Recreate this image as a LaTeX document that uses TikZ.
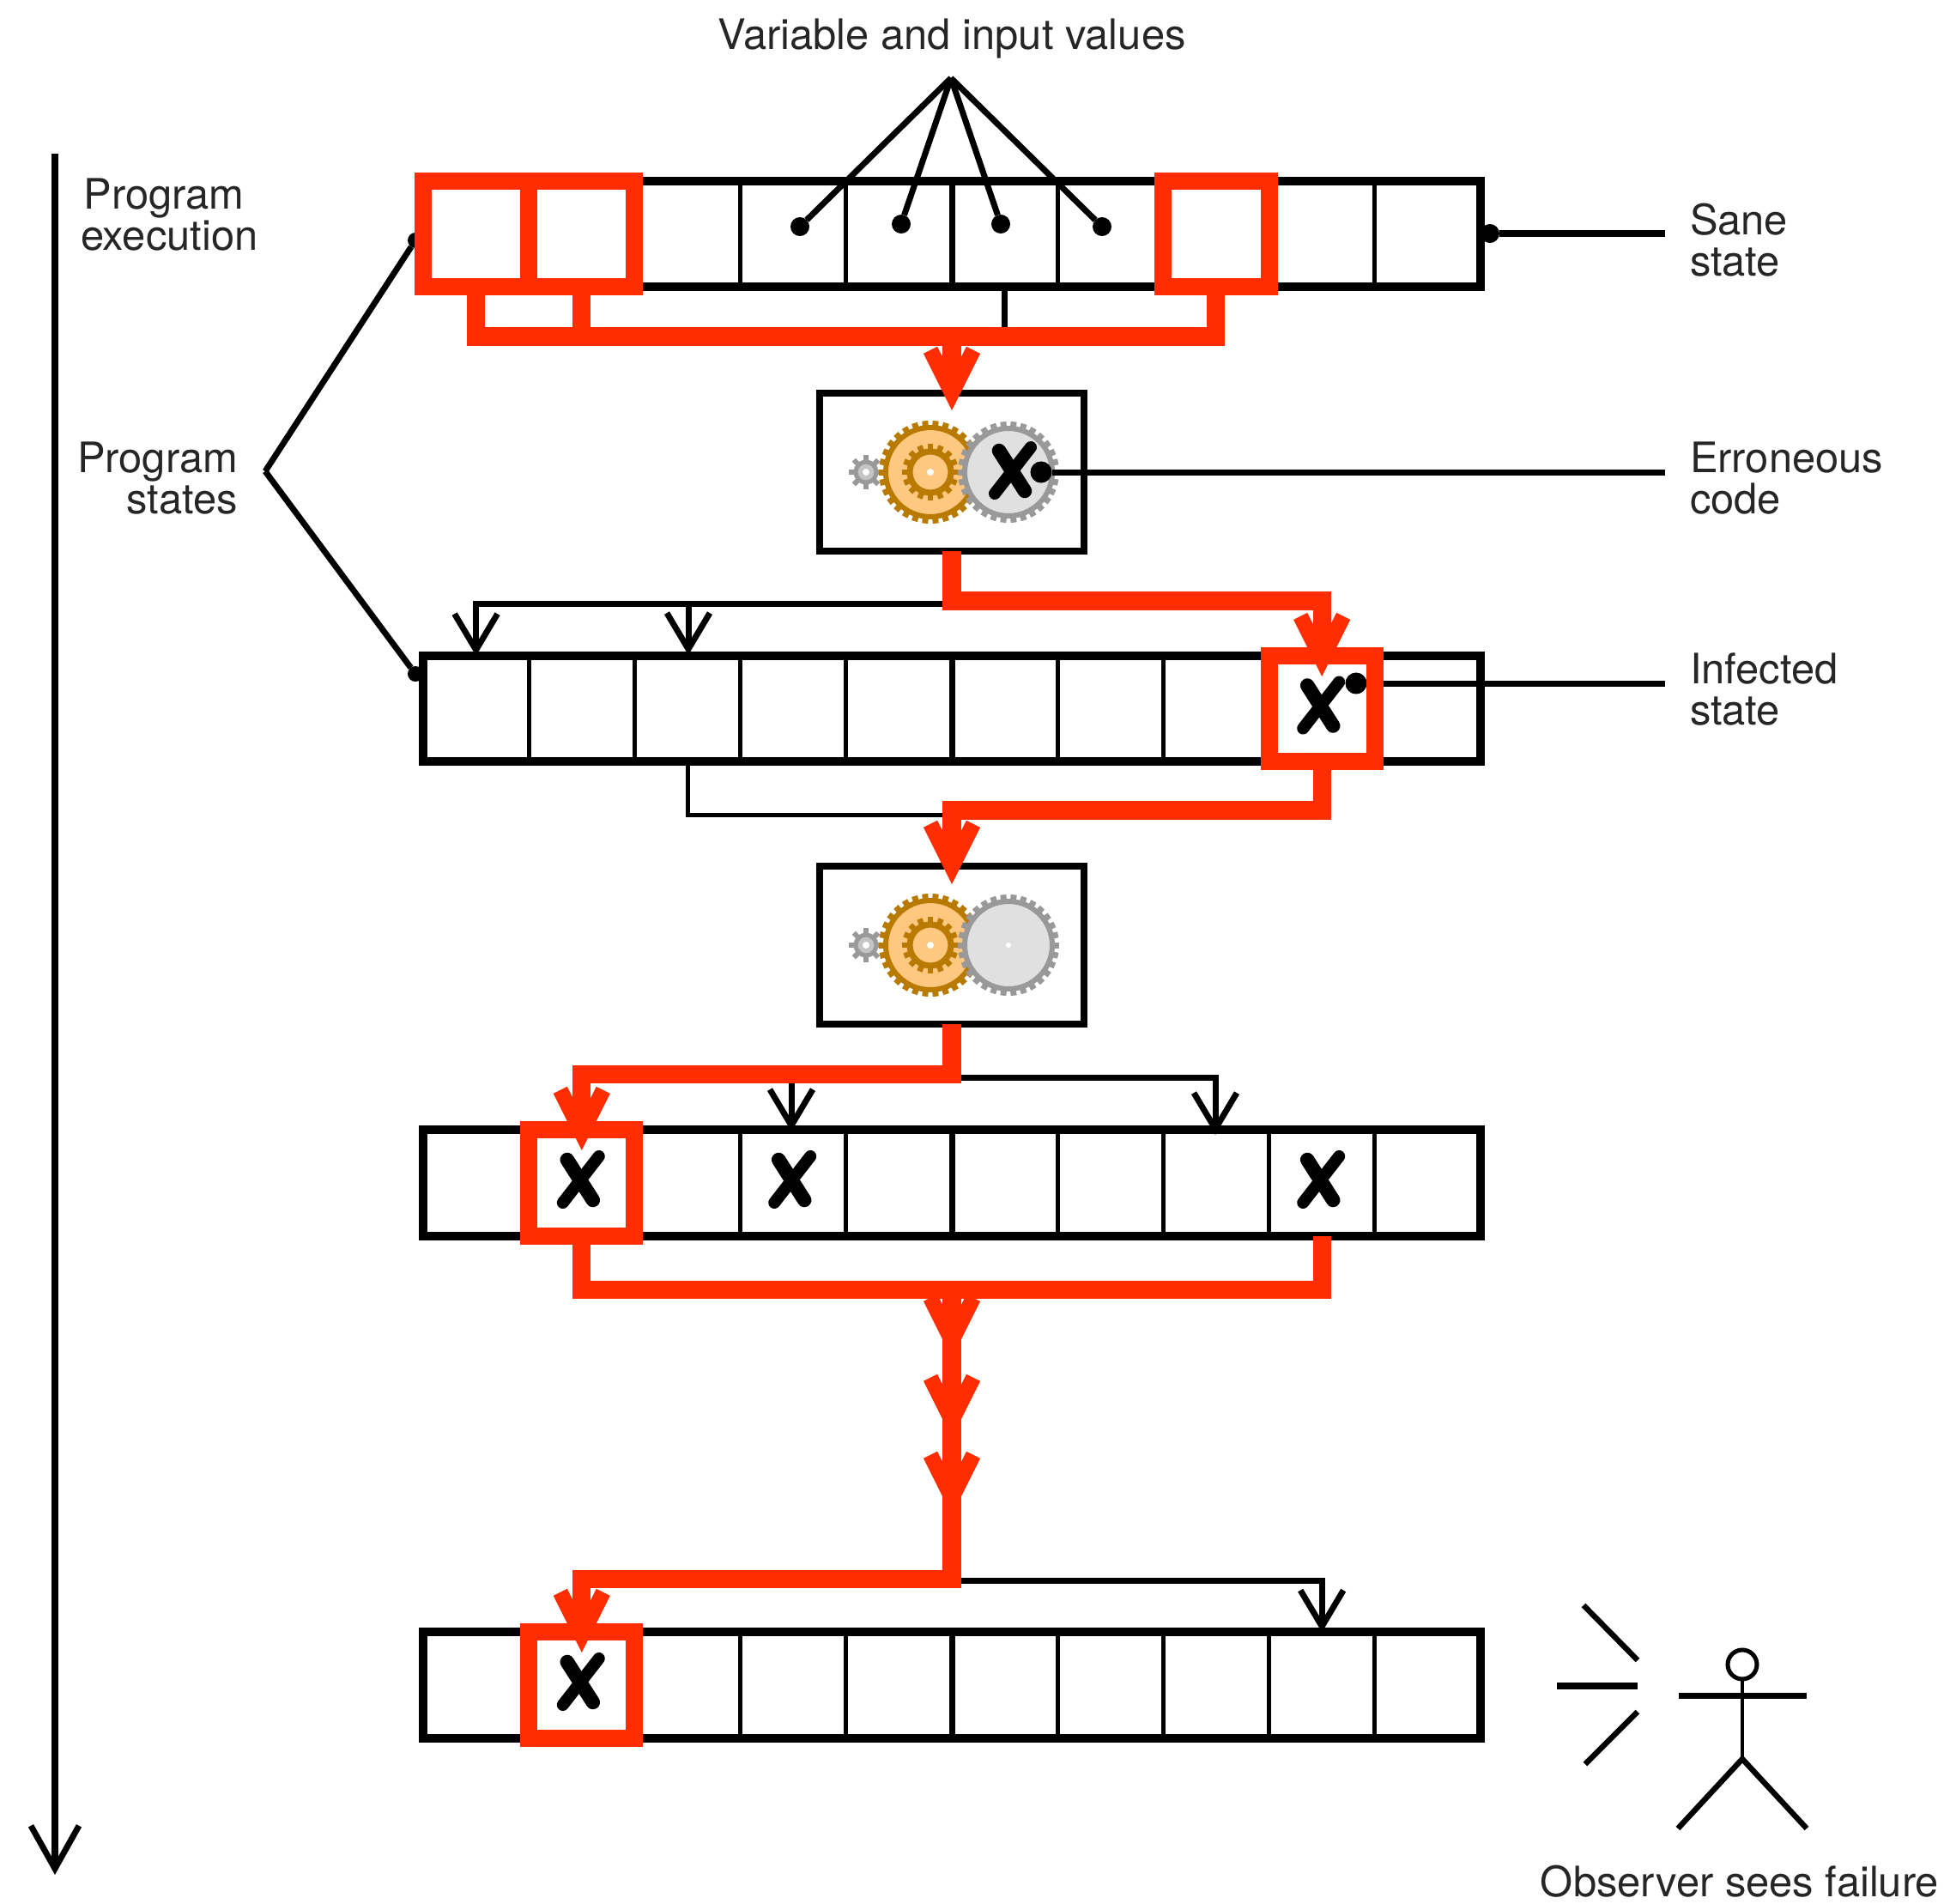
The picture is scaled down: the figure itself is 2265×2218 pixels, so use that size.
\documentclass[tikz,border=0pt]{standalone}
\usepackage{fontspec}
\setmainfont{TeX Gyre Heros}
\usetikzlibrary{arrows.meta}
\definecolor{rd}{HTML}{FF2D00}
\definecolor{org}{HTML}{FFC880}
\definecolor{brn}{HTML}{B87A00}
\definecolor{gr}{HTML}{999999}
\definecolor{lg}{HTML}{E0E0E0}
\newcommand{\teeth}[4]{% inner r, outer r, count step, width
  \foreach \a in {0,#3,...,359} \draw[line width=#4] (\a:#1) -- (\a:#2);}
\tikzset{
  cellbox/.style={draw=black,line width=0.05cm,minimum width=1.232cm,minimum height=1.23cm,inner sep=0pt,outer sep=0pt},
  frame/.style={draw=black,line width=0.1cm,line join=miter},
  mid/.style={draw=black,line width=0.07cm},
  gearbox/.style={draw=black,line width=0.08cm,fill=white,minimum width=3.07cm,minimum height=1.84cm,inner sep=0pt,outer sep=0pt},
  redbox/.style={draw=rd,line width=0.2cm,line join=miter},
  redline/.style={draw=rd,line width=0.21cm,line join=miter},
  redarrow/.style={draw=rd,line width=0.21cm,-{Straight Barb[length=0.5cm,width=0.5cm,line width=0.18cm,color=rd]}},
  blackline/.style={draw=black,line width=0.07cm,line join=miter},
  thinline/.style={draw=black,line width=0.05cm,line join=miter},
  blackarrow/.style={blackline,-{Straight Barb[length=0.42cm,width=0.5cm,line width=0.07cm]}},
  lead/.style={draw=black,line width=0.07cm},
  dotnode/.style={circle,fill=black,inner sep=0pt,outer sep=0pt,minimum size=0.22cm},
  lbl/.style={font=\fontsize{13.9}{13.66}\selectfont,inner sep=0pt,outer sep=0pt,text=black!85},
  stick/.style={draw=black,line width=0.065cm},
  xmark/.pic={
    \draw[line width=0.165cm,line cap=round] (-17,-27) -- (13,20);
    \draw[line width=0.14cm,line cap=round] (20,-31) -- (-22,23);
  },
  gearset/.pic={
    % small gear
    \begin{scope}[shift={(-100,0)},draw=gr]
      \teeth{10}{20}{45}{0.06cm}
      \draw[gr,line width=0.05cm,fill=lg!60!gr] (0,0) circle (12);
      \fill[white] (0,0) circle (4);
    \end{scope}
    % orange gear
    \begin{scope}[shift={(-25,0)},draw=brn]
      \teeth{50}{60}{12}{0.07cm}
      \draw[brn,line width=0.06cm,fill=org] (0,0) circle (52);
      \teeth{24}{33}{22.5}{0.065cm}
      \draw[brn,line width=0.07cm,fill=org] (0,0) circle (24);
      \fill[white] (0,0) circle (4);
    \end{scope}
    % grey gear
    \begin{scope}[shift={(66,0)},draw=gr]
      \teeth{48}{59}{12}{0.07cm}
      \draw[gr,line width=0.06cm,fill=lg] (0,0) circle (51);
      \fill[white] (0,0) circle (3);
    \end{scope}
  }
}
\begin{document}
\begin{tikzpicture}[x=0.01cm,y=-0.01cm]
\useasboundingbox (0,0) rectangle (2265,2218);
% cells of the four rows
\foreach \r/\yy in {a/272.5,b/825.5,c/1378,d/1963}{
  \foreach \i in {0,...,9}{
    \pgfmathsetmacro{\xx}{493+123.2*(\i+0.5)}
    \node[cellbox] (\r\i) at (\xx,\yy) {};
  }
  \draw[frame] (\r0.north west) rectangle (\r9.south east);
  \draw[mid] (\r4.north east) -- (\r4.south east);
}
% gear boxes
\node[gearbox] (g1) at (1109,550) {};
\node[gearbox] (g2) at (1109,1101) {};
\pic at (g1.center) {gearset};
\pic at (g2.center) {gearset};
% labels
\node[lbl] (tvar) at (1109,45) {Variable and input values};
\node[lbl,anchor=west,align=left] (texec) at (94,250) {\hspace*{1pt}Program\\execution};
\node[lbl,anchor=east,align=right] (tstates) at (277,557) {Program\\states};
\node[lbl,anchor=west,align=left] (tsane) at (1969,280) {Sane\\state};
\node[lbl,anchor=west,align=left] (terr) at (1969,557) {Erroneous\\code};
\node[lbl,anchor=west,align=left] (tinf) at (1969,803) {Infected\\state};
\node[lbl] (tobs) at (2027,2192) {Observer sees failure};
% time axis
\coordinate (t0) at (64,179);
\coordinate (t1) at (64,2184);
\draw[lead,-{Straight Barb[length=0.5cm,width=0.56cm,line width=0.07cm]}] (t0) -- (t1);
% input values leaders
\coordinate (apex) at (1108,91);
\node[dotnode] (v1) at (932,264) {};
\node[dotnode] (v2) at (1050,261) {};
\node[dotnode] (v3) at (1166,261) {};
\node[dotnode] (v4) at (1284,264) {};
\foreach \v in {v1,v2,v3,v4} \draw[lead] (apex) -- (\v);
% program states leaders
\coordinate (ps) at (309,549);
\node[dotnode,minimum size=0.18cm] (ps1) at (484,280) {};
\node[dotnode,minimum size=0.18cm] (ps2) at (484,785) {};
\draw[lead] (ps) -- (ps1);
\draw[lead] (ps) -- (ps2);
% right leaders
\node[dotnode] (ds) at (1736,272) {};
\coordinate (ds2) at (1940,272);
\draw[lead] (ds) -- (ds2);
\node[dotnode,minimum size=0.25cm] (de) at (1213,550) {};
\coordinate (de2) at (1940,550);
\draw[lead] (de) -- (de2);
\node[dotnode,minimum size=0.25cm] (di) at (1580,796) {};
\coordinate (di2) at (1940,796);
\draw[lead] (di) -- (di2);
% black connectors
\coordinate (bm) at (1170,392);
\draw[blackline] (a5.south -| bm) -- (bm);
\coordinate (k1) at (1109,703);
\draw[blackarrow] (k1) -| (b0.north);
\coordinate (k1b) at (802,703);
\draw[blackarrow] (k1b) -- (802,763);
\coordinate (k2) at (1109,949);
\draw[thinline] (b2.south) |- (k2);
\coordinate (k3) at (1109,1255);
\draw[blackarrow] (k3) -| (1416,1322);
\coordinate (k3b) at (922,1255);
\draw[blackarrow] (k3b) -- (922,1318);
\coordinate (k4) at (1109,1841);
\draw[blackarrow] (k4) -| (d8.north);
% red connectors
\coordinate (bus) at (1109,392);
\coordinate (busR) at (1416,392);
\draw[redline] (a0.south) |- (busR) -- (a7.south -| busR);
\draw[redline] (a1.south) -- (a1.south |- bus);
\coordinate (tip1) at (1109,478);
\draw[redline] (bus) -- (1109,435);
\draw[redarrow] (bus) -- (tip1);
\coordinate (r2a) at (1109,700);
\coordinate (tip2) at (b8.north |- 0,788);
\draw[redline] (g1.south) -- (r2a) -| (b8.north |- 0,745);
\draw[redarrow] (b8.north |- r2a) -- (tip2);
\coordinate (r3) at (1109,944);
\coordinate (tip3) at (1109,1030);
\draw[redline] (b8.south) |- (r3) -- (1109,985);
\draw[redarrow] (r3) -- (tip3);
\coordinate (r4) at (1109,1251);
\coordinate (tip4) at (c1.north |- 0,1340);
\draw[redline] (g2.south) -- (r4) -| (c1.north |- 0,1295);
\draw[redarrow] (c1.north |- r4) -- (tip4);
\coordinate (bus2) at (1109,1502);
\draw[redline] (c1.south) |- (bus2);
\draw[redline] (c8.south) |- (bus2);
\coordinate (t5) at (1109,1582);
\coordinate (t6) at (1109,1675);
\coordinate (t7) at (1109,1765);
\coordinate (r8) at (1109,1839);
\coordinate (tip8) at (d1.north |- 0,1925);
\draw[redline] (bus2) -- (r8) -| (d1.north |- 0,1880);
\draw[redarrow] (bus2) -- (t5);
\draw[redarrow] (t5) -- (t6);
\draw[redarrow] (t6) -- (t7);
\draw[redarrow] (d1.north |- r8) -- (tip8);
% red boxes
\foreach \n in {a0,a1,a7,b8,c1,d1}
  \draw[redbox] (\n.north west) rectangle (\n.south east);
% X marks
\pic at (1181,552) {xmark};
\pic at (b8.center) {xmark};
\pic at (c1.center) {xmark};
\pic at (c3.center) {xmark};
\pic at (c8.center) {xmark};
\pic at (d1.center) {xmark};
% observer
\coordinate (hd) at (2030,1939);
\draw[line width=0.05cm] (hd) circle (17);
\coordinate (neck) at (2030,1957);
\coordinate (hip) at (2030,2049);
\draw[line width=0.045cm] (neck) -- (hip);
\draw[line width=0.07cm] (1956,1975) -- (2105,1975);
\draw[stick] (hip) -- (1955,2130);
\draw[stick] (hip) -- (2105,2130);
\draw[stick] (1845,1870) -- (1908,1934);
\draw[line width=0.08cm] (1814,1964) -- (1908,1964);
\draw[stick] (1908,1994) -- (1847,2055);
\end{tikzpicture}
\end{document}
